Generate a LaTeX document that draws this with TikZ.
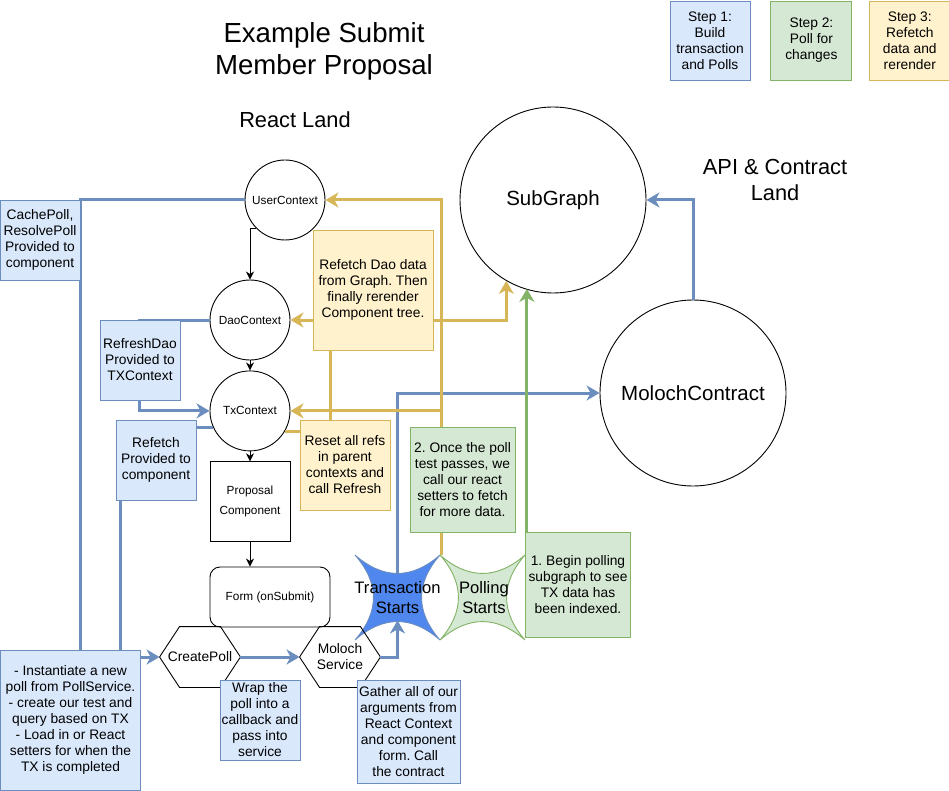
\documentclass[tikz,border=0pt]{standalone}
\usepackage{fontspec}
\setmainfont{Liberation Sans}
\usepackage{tikz}
\usetikzlibrary{positioning,arrows.meta}
\frenchspacing

\definecolor{blfill}{HTML}{DAE8FC}
\definecolor{bldraw}{HTML}{6C8EBF}
\definecolor{gnfill}{HTML}{D5E8D4}
\definecolor{gndraw}{HTML}{82B366}
\definecolor{ylfill}{HTML}{FFF2CC}
\definecolor{yldraw}{HTML}{D6B656}
\definecolor{txblue}{HTML}{4F87EE}

\begin{document}
\begin{tikzpicture}[
    x=1pt,y=-1pt,line width=0.9pt,
    ctx/.style={draw,circle,fill=white,minimum size=80pt,inner sep=0pt,
      font=\fontsize{11.8}{14}\selectfont},
    land/.style={draw,circle,fill=white,minimum size=186pt,inner sep=0pt,
      font=\fontsize{20.5}{24}\selectfont},
    note/.style={draw,align=center,inner sep=0pt,
      font=\fontsize{13.8}{16}\selectfont},
    bnote/.style={note,fill=blfill,draw=bldraw},
    gnote/.style={note,fill=gnfill,draw=gndraw},
    ynote/.style={note,fill=ylfill,draw=yldraw},
    hexbox/.style={minimum width=80pt,minimum height=60pt,inner sep=0pt,
      align=center,font=\fontsize{13.8}{16}\selectfont},
    startbox/.style={minimum size=85pt,inner sep=0pt,align=center,
      font=\fontsize{16.6}{20}\selectfont},
    bk/.style={-{Stealth[length=8pt,width=8pt,inset=2.5pt]}},
    bl/.style={bldraw,line width=3pt},
    gd/.style={yldraw,line width=3pt},
    gn/.style={gndraw,line width=3pt},
    arr/.style={-{Stealth[length=13pt,width=15pt,inset=4pt]}}
]
\useasboundingbox (0,0) rectangle (949,791);

\coordinate (tsc) at (397.5,597.5);
\coordinate (psc) at (482.5,597.5);
\foreach \c/\f/\d in {tsc/txblue/bldraw,psc/gnfill/gndraw}
  \path[fill=\f,draw=\d,shift={(\c)}] (-42.5,-42.5)
      .. controls (-14.2,-17.9) and (14.2,-17.9) .. (42.5,-42.5)
      .. controls (17.9,-14.2) and (17.9,14.2) .. (42.5,42.5)
      .. controls (14.2,17.9) and (-14.2,17.9) .. (-42.5,42.5)
      .. controls (-17.9,14.2) and (-17.9,-14.2) .. cycle;

\node[font=\fontsize{27.6}{32}\selectfont,align=center] (title) at (324,51) {Example Submit\\Member Proposal};
\node[font=\fontsize{21.8}{26}\selectfont]              (react) at (295,120) {React Land};
\node[font=\fontsize{21.8}{26}\selectfont,align=center] (api)   at (775,180) {API \& Contract\\Land};

\node[bnote,minimum width=80pt,minimum height=79pt] (step1) at (710,40.5) {Step 1:\\Build\\transaction\\and Polls};
\node[gnote,minimum width=81pt,minimum height=79pt,right=20pt of step1] (step2) {Step 2:\\Poll for\\changes};
\node[ynote,minimum width=80pt,minimum height=79pt,right=17pt of step2] (step3) {Step 3:\\Refetch\\data and\\rerender};

\node[ctx]                   (uc)  at (285,200) {UserContext};
\node[ctx]                   (dao) at (250,320) {DaoContext};
\node[ctx,below=10pt of dao] (tx)  {TxContext};
\node[draw,minimum size=80pt,inner sep=0pt,align=center,
      font=\fontsize{11.8}{20}\selectfont,below=10pt of tx] (prop) {Proposal\\Component};
\node[draw,rounded corners=10pt,minimum width=120pt,minimum height=60pt,
      font=\fontsize{11.8}{14}\selectfont] (form) at (270,597) {Form (onSubmit)};
\node[hexbox] (cp) at (200,657) {CreatePoll};
\node[hexbox] (ms) at (340,657) {Moloch\\Service};
\foreach \h in {cp,ms}
  \draw (\h.west) -- ([xshift=20pt]\h.north west) -- ([xshift=-20pt]\h.north east)
     -- (\h.east) -- ([xshift=-20pt]\h.south east) -- ([xshift=20pt]\h.south west) -- cycle;
\node[startbox]                (ts) at (tsc) {Transaction\\Starts};
\node[startbox,right=0pt of ts] (ps) {Polling\\Starts};
\node[land] (sg) at (553,200) {SubGraph};
\node[land] (mc) at (693,393) {MolochContract};

\node[bnote,minimum size=140pt] (inst)  at (70.5,720) {- Instantiate a new\\poll from PollService.\\- create our test and\\query based on TX\\- Load in or React\\setters for when the\\TX is completed};
\node[ynote,minimum size=120pt] (rdg)   at (373,290)  {Refetch Dao data\\from Graph. Then\\finally rerender\\Component tree.};
\node[ynote,minimum size=90pt]  (reset) at (345,465)  {Reset all refs\\in parent\\contexts and\\call Refresh};

\draw[bk] (uc.225) -| (dao.north);
\draw[bk] (dao.south) -- (tx.north);
\draw[bk] (tx.south) -- (prop.north);
\draw[bk] (prop.south) -- (prop.south |- form.north);

\draw[bl] (uc.west) -| ([xshift=10pt]inst.north);
\draw[bl] (tx.205) -| ([xshift=50pt]inst.north);
\draw[bl,arr] (dao.west) -- ++(-70,0) |- (tx.west);
\draw[bl,arr] (inst.east |- cp.west) -- (cp.west);
\draw[bl,arr] (cp.east) -- (ms.west);
\draw[bl,arr] (ms.east) -| ([yshift=20pt]ts.south);
\draw[bl,arr] ([yshift=-18pt]ts.north) |- (mc.west);
\draw[bl,arr] (mc.north) |- (sg.east);

\draw[gn,arr] (ps.north east) -- (ps.north east |- sg.252.5);

\draw[gd,arr] (ps.north west) |- (uc.east);
\draw[gd,arr] (ps.north west |- tx.east) -- (tx.east);
\draw[gd] (tx.330) -- (tx.330 -| reset.west);
\draw[gd] ([xshift=-15pt]reset.north) -- ([xshift=-43pt]rdg.south);
\draw[gd,arr] (rdg.west |- dao.east) -- (dao.east);
\draw[gd,arr] (rdg.east |- dao.east) -| (sg.240);

\node[bnote,minimum size=80pt]  (cache)   at (40,240)      {CachePoll,\\ResolvePoll\\Provided to\\component};
\node[bnote,minimum size=80pt]  (rdao)    at (140,360)     {RefreshDao\\Provided to\\TXContext};
\node[bnote,minimum size=80pt]  (refetch) at (156,460)     {Refetch\\Provided to\\component};
\node[gnote,minimum size=105pt] (once)    at (462.5,479.5) {2. Once the poll\\test passes, we\\call our react\\setters to fetch\\for more data.};
\node[gnote,minimum size=105pt] (begin)   at (578,584.5)   {1. Begin polling\\subgraph to see\\TX data has\\been indexed.};
\node[bnote,minimum size=80pt]  (wrap)    at (260,720)     {Wrap the\\poll into a\\callback and\\pass into\\service};
\node[bnote,minimum size=103pt] (gather)  at (408.5,731.5) {Gather all of our\\arguments from\\React Context\\and component\\form. Call\\the contract};
\end{tikzpicture}
\end{document}
